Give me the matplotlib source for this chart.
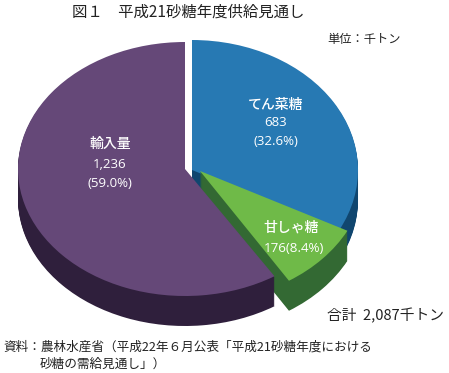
import matplotlib
matplotlib.use("Agg")
from matplotlib import pyplot as plt
from matplotlib.patches import Wedge
from matplotlib.transforms import Affine2D

plt.rcParams['font.family'] = ['Noto Sans CJK JP', 'DejaVu Sans']

names = ["てん菜糖", "甘しゃ糖", "輸入量"]
shares = [32.6, 8.4, 59.0]
value_labels = ["683\n(32.6%)", "176(8.4%)", "1,236\n(59.0%)"]

top_colors = ["#2779b3", "#6fba48", "#654878"]
side_colors = ["#10466f", "#336933", "#2f1f3c"]
# each slice is pulled out of the pie on its own: centre x, centre y, x radius, y radius (pixels)
shapes = [(192, 170, 166, 130), (200, 171, 166, 130), (185, 169, 167, 127)]
depth = 30

W, H = 449, 373
fig = plt.figure(figsize=(W / 100, H / 100), dpi=100)
ax = fig.add_axes([0, 0, 1, 1])
ax.set_xlim(0, W)
ax.set_ylim(H, 0)
ax.axis("off")

# 3d pie, walls are the top shape stacked downwards
angle = 90.0
for share, top, side, (cx, cy, rx, ry) in zip(shares, top_colors, side_colors, shapes):
    end = angle - share * 3.6
    for d in list(range(depth, 0, -1)) + [0]:
        tr = Affine2D().scale(rx, -ry).translate(cx, cy + d) + ax.transData
        color = side if d > 0 else top
        ax.add_patch(Wedge((0, 0), 1, end, angle, transform=tr, facecolor=color, edgecolor="none"))
    angle = end

# slice labels
ax.text(276, 105, names[0], color="white", fontsize=10, ha="center", va="center", fontweight="medium")
ax.text(276, 132, value_labels[0], color="white", fontsize=9.5, ha="center", va="center",
        family=["Open Sans"], linespacing=1.6)
ax.text(291, 228, names[1], color="white", fontsize=10, ha="center", va="center", fontweight="medium")
ax.text(294, 249, value_labels[1], color="white", fontsize=9.6, ha="center", va="center", family=["Open Sans"])
ax.text(110, 144, names[2], color="white", fontsize=10, ha="center", va="center", fontweight="medium")
ax.text(110, 174, value_labels[2], color="white", fontsize=9.5, ha="center", va="center",
        family=["Open Sans"], linespacing=1.6)

# titles and notes
ax.text(72, 12, "図１　平成21砂糖年度供給見通し", fontsize=11.1, color="#222222", va="center")
ax.text(327, 39, "単位：千トン", fontsize=8.8, color="#222222", va="center")
ax.text(327, 316, "合計  2,087千トン", fontsize=10.6, color="#222222", va="center")
ax.text(3, 347, "資料：農林水産省（平成22年６月公表「平成21砂糖年度における", fontsize=9.1, color="#222222", va="center")
ax.text(40, 364, "砂糖の需給見通し」）", fontsize=9.1, color="#222222", va="center")

fig.savefig("out.png", dpi=100)
